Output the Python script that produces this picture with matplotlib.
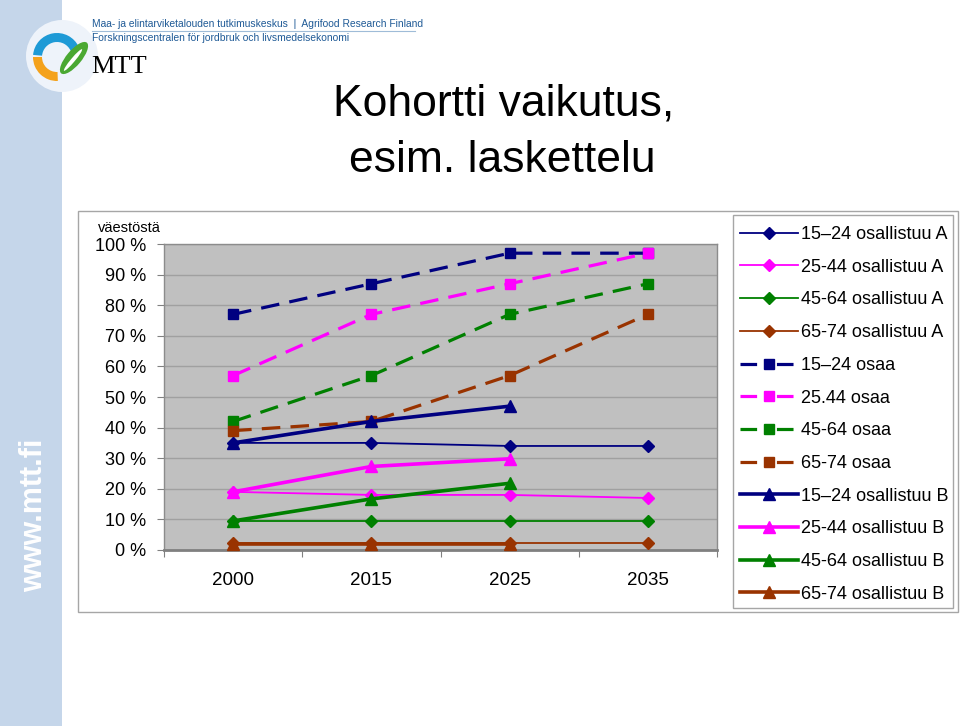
import matplotlib
matplotlib.use('Agg')
import matplotlib.pyplot as plt
from matplotlib.patches import Rectangle, Wedge, Ellipse, Circle
from matplotlib.lines import Line2D

# data (% of population)
years = ['2000', '2015', '2025', '2035']
a_1524 = [35, 35, 34, 34]
a_2544 = [19, 18, 18, 17]
a_4564 = [9.5, 9.5, 9.5, 9.5]
a_6574 = [2.2, 2.2, 2.2, 2.2]
osaa_1524 = [77, 87, 97, 97]
osaa_2544 = [57, 77, 87, 97]
osaa_4564 = [42, 57, 77, 87]
osaa_6574 = [39, 42, 57, 77]
b_1524 = [35, 42, 47]
b_2544 = [19, 27.3, 29.8]
b_4564 = [9.5, 16.7, 21.8]
b_6574 = [1.8, 1.8, 1.8]

labels_a = ['15\u201324 osallistuu A', '25-44 osallistuu A',
            '45-64 osallistuu A', '65-74 osallistuu A']
labels_osaa = ['15\u201324 osaa', '25.44 osaa', '45-64 osaa', '65-74 osaa']
labels_b = ['15\u201324 osallistuu B', '25-44 osallistuu B',
            '45-64 osallistuu B', '65-74 osallistuu B']
colors = ['#000080', '#ff00ff', '#008000', '#993300']

SANS = ['Liberation Sans', 'DejaVu Sans']

fig = plt.figure(figsize=(9.6, 7.26), dpi=100)

# background layer in pixel coordinates (y grows downwards)
bg = fig.add_axes([0, 0, 1, 1])
bg.set_xlim(0, 960)
bg.set_ylim(726, 0)
bg.axis('off')
bg.add_patch(Rectangle((0, 0), 62, 726, color='#c5d6ea', lw=0))
bg.add_patch(Circle((62, 56), 36, color='#eef3fa', lw=0))
# logo
bg.add_patch(Wedge((57, 57), 24, 185, 335, width=9, color='#1e9ad6', lw=0))
bg.add_patch(Wedge((57, 57), 24, 88, 180, width=9, color='#f4a21c', lw=0))
bg.add_patch(Ellipse((74, 58), 15, 40, angle=40, color='#4aa832', lw=0))
bg.add_patch(Ellipse((73, 60), 4, 28, angle=40, color='white', lw=0))
bg.text(91, 67, 'MTT', fontsize=19, family=['Liberation Serif', 'DejaVu Serif'],
        va='center', ha='left', color='black')
bg.text(92, 24, 'Maa- ja elintarviketalouden tutkimuskeskus  |  Agrifood Research Finland',
        fontsize=7.4, color='#1f5a96', va='center', ha='left', family=SANS)
bg.plot([92, 415], [31, 31], color='#9fbcd8', lw=0.8)
bg.text(92, 38, 'Forskningscentralen f\u00f6r jordbruk och livsmedelsekonomi',
        fontsize=7.4, color='#1f5a96', va='center', ha='left', family=SANS)
bg.text(34, 515, 'www.mtt.fi', rotation=90, fontsize=22, fontweight='bold',
        color='white', ha='center', va='center', family=SANS)

# title
bg.text(504, 104, 'Kohortti vaikutus,', fontsize=32, family=SANS,
        ha='center', va='center')
bg.text(502, 160, 'esim. laskettelu', fontsize=32, family=SANS,
        ha='center', va='center')

# chart and legend frames
bg.add_patch(Rectangle((78, 211), 880, 401, fill=False, ec='#a6a6a6', lw=1))
bg.add_patch(Rectangle((733, 215), 220, 393, fill=False, ec='#a6a6a6', lw=1))
bg.text(98, 228, 'v\u00e4est\u00f6st\u00e4', fontsize=10.5, family=SANS,
        ha='left', va='center')

ax = fig.add_axes([164 / 960, 1 - 550 / 726, 553 / 960, 306 / 726])
ax.set_facecolor('#c0c0c0')
x = range(len(years))
xb = range(len(b_1524))

handles = []
for vals, c, lab in zip([a_1524, a_2544, a_4564, a_6574], colors, labels_a):
    h, = ax.plot(x, vals, color=c, lw=1.3, marker='D', ms=6.5, label=lab,
                 clip_on=False, zorder=3)
    handles.append(h)
for vals, c, lab in zip([osaa_1524, osaa_2544, osaa_4564, osaa_6574], colors, labels_osaa):
    ax.plot(x, vals, color=c, lw=2.3, marker='s', ms=7, dashes=(5.8, 3.2),
            clip_on=False, zorder=4)
    # legend proxy with a wider gap so the marker sits between two dashes
    handles.append(Line2D([], [], color=c, lw=2.3, marker='s', ms=7,
                          dashes=(5.2, 6.2), label=lab))
for vals, c, lab in zip([b_1524, b_2544, b_4564, b_6574], colors, labels_b):
    h, = ax.plot(xb, vals, color=c, lw=2.6, marker='^', ms=8.5, label=lab,
                 clip_on=False, zorder=5)
    handles.append(h)

ax.set_xlim(-0.5, len(years) - 0.5)
ax.set_ylim(0, 100)
ax.set_yticks(range(0, 101, 10))
ax.set_yticklabels(['%d %%' % v for v in range(0, 101, 10)], family=SANS,
                   fontsize=13)
ax.set_xticks([i + 0.5 for i in range(-1, len(years))])
ax.set_xticklabels([])
ax.set_xticks(list(x), minor=True)
ax.set_xticklabels(years, minor=True, family=SANS, fontsize=13.5)
ax.tick_params(axis='x', which='minor', length=0, pad=16)
ax.tick_params(axis='x', which='major', length=5, color='#808080', direction='out')
ax.tick_params(axis='y', length=5, color='#808080', direction='out', pad=8)
ax.yaxis.grid(True, color='#a0a0a0', lw=1)
ax.set_axisbelow(True)
for side in ['top', 'right', 'left']:
    ax.spines[side].set_color('#8c8c8c')
    ax.spines[side].set_linewidth(1)
ax.spines['bottom'].set_color('#808080')
ax.spines['bottom'].set_linewidth(2)

leg = ax.legend(handles=handles, loc='upper left',
                bbox_to_anchor=(740 / 960, 1 - 226 / 726),
                bbox_transform=fig.transFigure, frameon=False,
                prop={'family': SANS, 'size': 13}, borderpad=0,
                borderaxespad=0, labelspacing=0.87, handlelength=3.2,
                handletextpad=0.2, numpoints=1)

fig.savefig('out.png', dpi=100)
